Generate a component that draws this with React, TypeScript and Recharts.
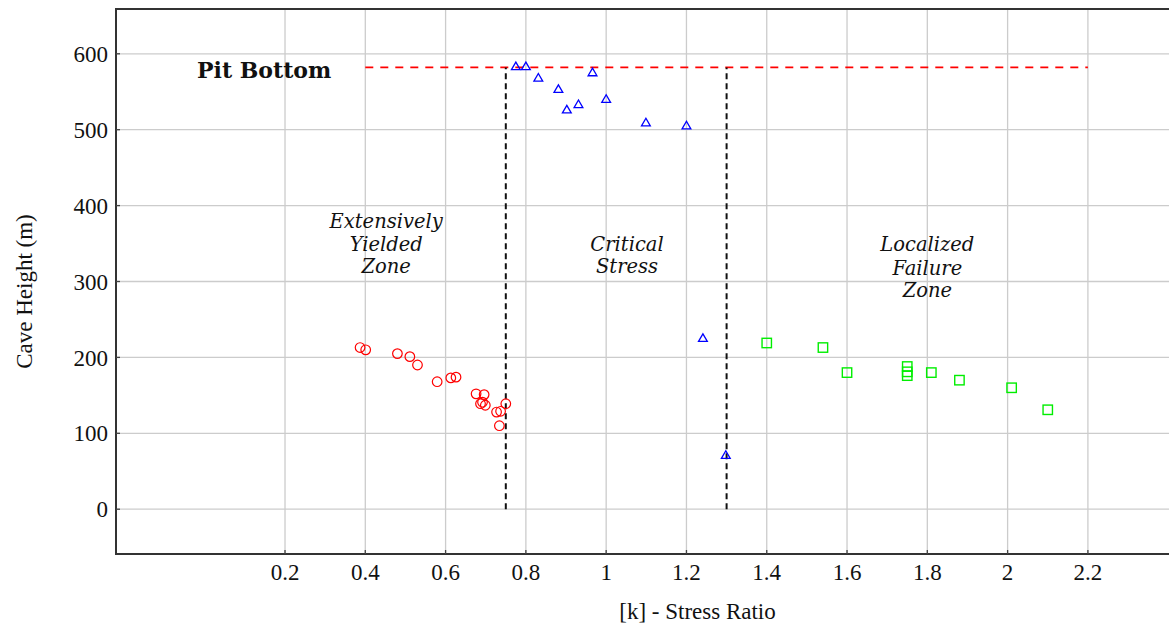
import React from "react";
import {
  ScatterChart,
  Scatter,
  XAxis,
  YAxis,
  CartesianGrid,
  ReferenceLine,
  ReferenceArea,
  ReferenceDot,
} from "recharts";

// extensively yielded zone (red circles)
const yieldedX = [0.387, 0.401, 0.48, 0.511, 0.53, 0.579, 0.613, 0.626, 0.676, 0.696, 0.687, 0.699, 0.692, 0.727, 0.737, 0.75, 0.734];
const yieldedY = [213, 210, 205, 201, 190, 168, 173, 174, 152, 151, 139, 137, 141, 128, 129, 139, 110];

// critical stress (blue triangles)
const criticalX = [0.775, 0.8, 0.831, 0.881, 0.902, 0.931, 0.966, 1.0, 1.099, 1.2, 1.241, 1.298];
const criticalY = [583, 583, 568, 553, 526, 533, 575, 540, 509, 505, 225, 71];

// localized failure zone (green squares)
const localX = [1.4, 1.54, 1.6, 1.75, 1.75, 1.75, 1.81, 1.88, 2.01, 2.1];
const localY = [219, 213, 180, 188, 181, 176, 180, 170, 160, 131];

const xTicks = [0.2, 0.4, 0.6, 0.8, 1, 1.2, 1.4, 1.6, 1.8, 2, 2.2];
const yTicks = [0, 100, 200, 300, 400, 500, 600];

const pitBottom = 582;
const zoneBounds = [0.75, 1.3];

const zoneLabels = [
  { x: 0.452, y: 379, text: "Extensively" },
  { x: 0.452, y: 349, text: "Yielded" },
  { x: 0.452, y: 320, text: "Zone" },
  { x: 1.052, y: 349, text: "Critical" },
  { x: 1.052, y: 320, text: "Stress" },
  { x: 1.8, y: 349, text: "Localized" },
  { x: 1.8, y: 318, text: "Failure" },
  { x: 1.8, y: 289, text: "Zone" },
];

const X_MIN = -0.221;
const X_MAX = 2.407;
const Y_MIN = -59;
const Y_MAX = 659;

const toPoints = (xs: number[], ys: number[]) => xs.map((x, i) => ({ x, y: ys[i] }));

const serif = "'Liberation Serif', 'Times New Roman', serif";
const tickStyle = { fontFamily: serif, fontSize: 23, fill: "#111" };
const tickLineStyle = { stroke: "#444", strokeWidth: 1.3 };

const Circle = ({ cx, cy }: any) => (
  <circle cx={cx} cy={cy} r={4.8} fill="none" stroke="#ff0000" strokeWidth={1.2} />
);

const Triangle = ({ cx, cy }: any) => (
  <polygon
    points={`${cx},${cy - 4.6} ${cx - 4.4},${cy + 3} ${cx + 4.4},${cy + 3}`}
    fill="none"
    stroke="#0000ff"
    strokeWidth={1.3}
  />
);

const Square = ({ cx, cy }: any) => (
  <rect x={cx - 4.7} y={cy - 4.7} width={9.4} height={9.4} fill="none" stroke="#00ee00" strokeWidth={1.4} />
);

const XLabel = ({ viewBox }: any) => (
  <text
    x={viewBox.x + viewBox.width / 2 + 54}
    y={viewBox.y + 65}
    textAnchor="middle"
    style={{ fontFamily: serif, fontSize: 23, fill: "#111" }}
  >
    [k] - Stress Ratio
  </text>
);

const YLabel = ({ viewBox }: any) => (
  <text
    transform={`translate(${viewBox.x + 32}, ${viewBox.y + viewBox.height / 2 + 10}) rotate(-90)`}
    textAnchor="middle"
    style={{ fontFamily: serif, fontSize: 23, fill: "#111" }}
  >
    Cave Height (m)
  </text>
);

export default function App() {
  return (
    <div
      style={{
        position: "absolute",
        left: 0,
        top: 0,
        width: 1169,
        height: 629,
        overflow: "hidden",
        background: "#fff",
      }}
    >
      <ScatterChart width={1180} height={629} margin={{ top: 9, right: 9, bottom: 0, left: 0 }}>
        <CartesianGrid stroke="#cccccc" strokeWidth={1.3} />
        <XAxis
          type="number"
          dataKey="x"
          domain={[X_MIN, X_MAX]}
          ticks={xTicks}
          allowDataOverflow
          height={75}
          tickSize={-4}
          tickMargin={14}
          tickLine={tickLineStyle}
          axisLine={false}
          tick={tickStyle}
          label={{ content: XLabel }}
        />
        <XAxis
          xAxisId="top"
          orientation="top"
          type="number"
          dataKey="x"
          domain={[X_MIN, X_MAX]}
          ticks={xTicks}
          allowDataOverflow
          height={0}
          tickSize={-4}
          tickLine={tickLineStyle}
          axisLine={false}
          tick={false}
        />
        <YAxis
          type="number"
          dataKey="y"
          domain={[Y_MIN, Y_MAX]}
          ticks={yTicks}
          allowDataOverflow
          width={116}
          tickSize={-4}
          tickMargin={12}
          tickLine={tickLineStyle}
          axisLine={false}
          tick={tickStyle}
          label={{ content: YLabel }}
        />
        <YAxis
          yAxisId="right"
          orientation="right"
          type="number"
          dataKey="y"
          domain={[Y_MIN, Y_MAX]}
          ticks={yTicks}
          allowDataOverflow
          width={0}
          tickSize={-4}
          tickLine={tickLineStyle}
          axisLine={false}
          tick={false}
        />
        <ReferenceArea
          x1={X_MIN}
          x2={X_MAX}
          y1={Y_MIN}
          y2={Y_MAX}
          fill="none"
          stroke="#333"
          strokeWidth={2}
          fillOpacity={0}
        />
        <ReferenceLine
          segment={[
            { x: 0.4, y: pitBottom },
            { x: 2.2, y: pitBottom },
          ]}
          stroke="#ff0000"
          strokeWidth={1.8}
          strokeDasharray="8 7"
        />
        {zoneBounds.map((b) => (
          <ReferenceLine
            key={b}
            segment={[
              { x: b, y: 0 },
              { x: b, y: pitBottom },
            ]}
            stroke="#111"
            strokeWidth={2}
            strokeDasharray="6 4"
          />
        ))}
        <ReferenceDot
          x={0.148}
          y={579}
          r={0}
          label={{
            value: "Pit Bottom",
            position: "center",
            style: { fontFamily: "'DejaVu Serif', serif", fontWeight: "bold", fontSize: 22, fill: "#111" },
          }}
        />
        {zoneLabels.map((l, i) => (
          <ReferenceDot
            key={i}
            x={l.x}
            y={l.y}
            r={0}
            label={{
              value: l.text,
              position: "center",
              style: { fontFamily: "'DejaVu Serif', serif", fontStyle: "italic", fontSize: 19.5, fill: "#111" },
            }}
          />
        ))}
        <Scatter data={toPoints(yieldedX, yieldedY)} shape={Circle} isAnimationActive={false} />
        <Scatter data={toPoints(criticalX, criticalY)} shape={Triangle} isAnimationActive={false} />
        <Scatter data={toPoints(localX, localY)} shape={Square} isAnimationActive={false} />
      </ScatterChart>
    </div>
  );
}
